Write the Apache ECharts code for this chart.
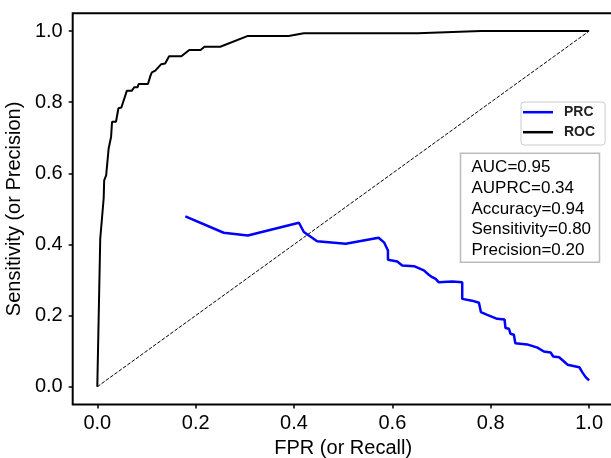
<!DOCTYPE html>
<html>
<head>
<meta charset="utf-8">
<script src="https://cdn.jsdelivr.net/npm/echarts@6/dist/echarts.min.js"></script>
<style>html,body{margin:0;padding:0;background:#fff}#c{width:611px;height:458px}</style>
</head>
<body>
<div id="c"></div>
<script>
// ---- data ----
const tickValues = [0.0, 0.2, 0.4, 0.6, 0.8, 1.0];
const rocFpr = [0, 0.006, 0.013, 0.014, 0.018, 0.023, 0.028, 0.030, 0.038, 0.043, 0.049, 0.060, 0.070, 0.075, 0.082, 0.084, 0.103, 0.108, 0.111, 0.118, 0.130, 0.138, 0.146, 0.171, 0.187, 0.210, 0.218, 0.250, 0.305, 0.389, 0.420, 0.651, 0.780, 1.0];
const rocTpr = [0, 0.416, 0.530, 0.580, 0.594, 0.669, 0.702, 0.745, 0.745, 0.783, 0.785, 0.832, 0.832, 0.842, 0.842, 0.851, 0.851, 0.874, 0.884, 0.889, 0.907, 0.909, 0.929, 0.929, 0.947, 0.947, 0.956, 0.956, 0.986, 0.986, 0.994, 0.994, 1.0, 1.0];
const prcRecall = [0.179, 0.257, 0.306, 0.410, 0.420, 0.447, 0.505, 0.572, 0.583, 0.591, 0.591, 0.610, 0.620, 0.644, 0.664, 0.674, 0.681, 0.688, 0.694, 0.722, 0.742, 0.742, 0.762, 0.776, 0.780, 0.793, 0.813, 0.828, 0.830, 0.837, 0.840, 0.847, 0.850, 0.874, 0.895, 0.908, 0.922, 0.927, 0.939, 0.949, 0.956, 0.980, 0.986, 0.993, 1.0];
const prcPrecision = [0.479, 0.433, 0.425, 0.461, 0.435, 0.409, 0.402, 0.419, 0.406, 0.383, 0.357, 0.352, 0.341, 0.339, 0.327, 0.315, 0.308, 0.303, 0.294, 0.296, 0.294, 0.247, 0.242, 0.236, 0.210, 0.202, 0.191, 0.189, 0.165, 0.163, 0.149, 0.146, 0.122, 0.119, 0.110, 0.099, 0.096, 0.085, 0.083, 0.071, 0.062, 0.055, 0.041, 0.027, 0.018];
const diagX = [0, 1];
const diagY = [0, 1];
const statsLines = ['AUC=0.95', 'AUPRC=0.34', 'Accuracy=0.94', 'Sensitivity=0.80', 'Precision=0.20'];
const legendNames = ['PRC', 'ROC'];
const xTitle = 'FPR (or Recall)';
const yTitle = 'Sensitivity (or Precision)';

const zip = (a, b) => a.map((v, i) => [v, b[i]]);
const FONT = '"Liberation Sans", Arial, sans-serif';

const axisCommon = (name) => ({
  type: 'value',
  min: -0.05, max: 1.05,
  name: name,
  nameLocation: 'middle',
  nameTextStyle: { fontFamily: FONT, fontSize: 20, color: '#000' },
  axisLine: { show: false, onZero: false },
  splitLine: { show: false },
  axisTick: { show: true, inside: false, length: 4, customValues: tickValues, lineStyle: { color: '#000', width: 1.5 } },
  axisLabel: { show: true, customValues: tickValues, fontFamily: FONT, fontSize: 20, color: '#000', formatter: v => Number(v).toFixed(1) }
});

const chart = echarts.init(document.getElementById('c'), null, { renderer: 'canvas' });
const xA = axisCommon(xTitle); xA.nameGap = 31; xA.axisLabel.margin = 9;
const yA = axisCommon(yTitle); yA.nameGap = 46; yA.axisLabel.margin = 10;

chart.setOption({
  animation: false,
  backgroundColor: '#fff',
  grid: { left: 72.7, top: 13.3, width: 541, height: 391.2, show: true, borderColor: '#000', borderWidth: 2, backgroundColor: 'transparent', outerBoundsMode: 'none', containLabel: false },
  xAxis: xA,
  yAxis: yA,
  title: {
    text: statsLines.join('\n'),
    left: 460, top: 153,
    padding: [4.3, 8.5, 2.2, 11.5],
    borderColor: '#bbbbbb', borderWidth: 1.5,
    backgroundColor: '#fff',
    textStyle: { fontFamily: FONT, fontSize: 17, fontWeight: 'normal', color: '#000', lineHeight: 20.7 }
  },
  legend: {
    data: legendNames,
    orient: 'vertical',
    left: 521, top: 102,
    padding: [3.2, 10, 5.8, 2],
    itemWidth: 30, itemHeight: 2.5, itemGap: 6,
    icon: 'rect',
    backgroundColor: '#fff',
    borderColor: '#cccccc', borderWidth: 1, borderRadius: 3,
    textStyle: { fontFamily: '"Liberation Sans Narrow", "Liberation Sans", sans-serif', fontSize: 14, fontWeight: 'bold', color: '#222', padding: [0, 0, 0, 6] }
  },
  series: [
    {
      name: 'diag', type: 'line', data: zip(diagX, diagY), showSymbol: false, silent: true,
      lineStyle: { color: '#000', width: 1, type: [3.7, 1.6] }, z: 1
    },
    {
      name: 'ROC', type: 'line', data: zip(rocFpr, rocTpr), showSymbol: false,
      lineStyle: { color: '#000', width: 2 }, itemStyle: { color: '#000' }, z: 3
    },
    {
      name: 'PRC', type: 'line', data: zip(prcRecall, prcPrecision), showSymbol: false,
      lineStyle: { color: '#0000ff', width: 2.5 }, itemStyle: { color: '#0000ff' }, z: 2
    }
  ]
});
</script>
</body>
</html>
